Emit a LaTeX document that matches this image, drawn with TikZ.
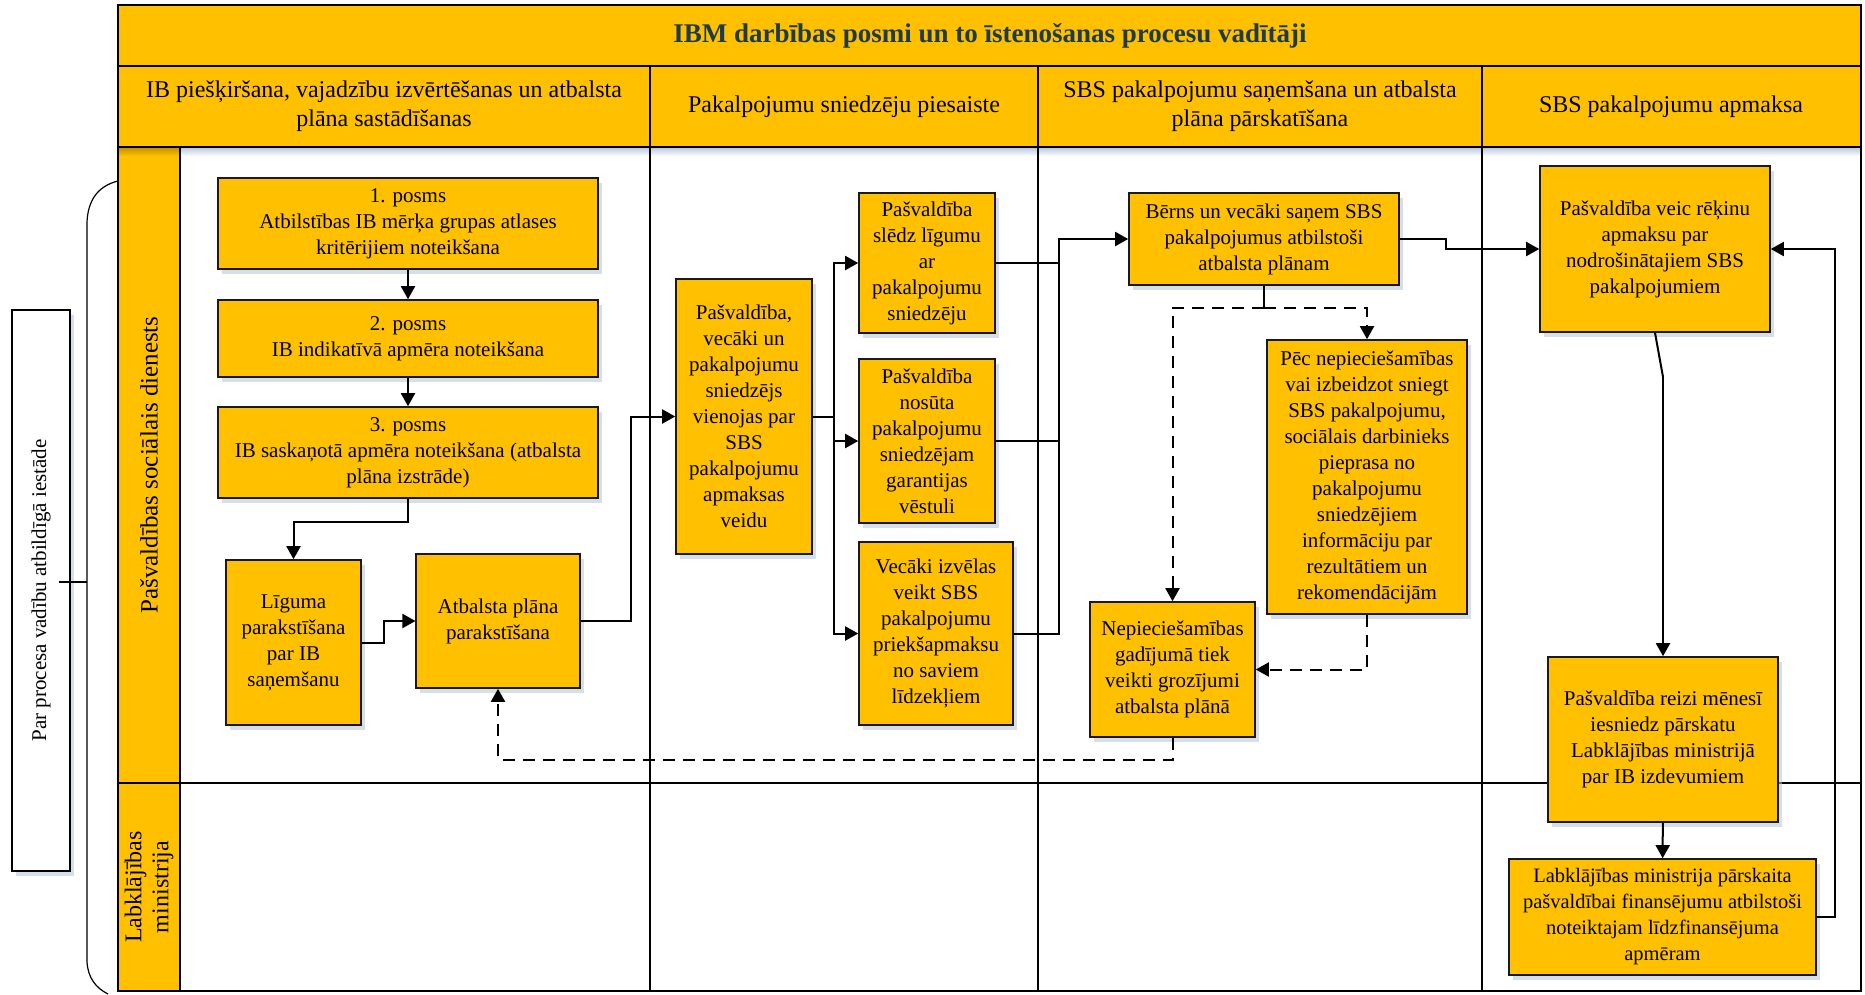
\documentclass[tikz,border=0pt]{standalone}
\usepackage{fontspec}
\setmainfont{Liberation Serif}
\usetikzlibrary{arrows.meta,shadows}
\definecolor{gold}{HTML}{FFC000}
\definecolor{titlec}{HTML}{1F3A48}
\definecolor{shadowc}{HTML}{B4C4DC}
\tikzset{
  box/.style={draw=black!90, line width=1.6pt, fill=gold, align=center, inner sep=0pt,
    font=\fontsize{21}{26}\selectfont,
    drop shadow={shadow xshift=4pt, shadow yshift=-5pt, fill=shadowc, opacity=0.55}},
  conn/.style={line width=2pt, draw=black},
  arr/.style={conn, -{Triangle[length=13pt,width=14pt]}},
  darr/.style={arr, dash pattern=on 12pt off 8pt},
  dline/.style={conn, dash pattern=on 12pt off 8pt},
  hdr/.style={align=center, font=\fontsize{24}{29}\selectfont},
  lanetxt/.style={rotate=90, align=center, font=\fontsize{25}{28}\selectfont},
  frame/.style={line width=2.2pt, draw=black},
  thin/.style={line width=1.1pt, draw=black}
}
\begin{document}
\begin{tikzpicture}[x=1pt,y=-1pt]
\useasboundingbox (0,0) rectangle (1865,994);
\fill[white] (0,0) rectangle (1865,994);
% fills
\fill[gold] (118,5) rectangle (1861,147);
\fill[gold] (118,147) rectangle (180,991);
\shade[top color=shadowc, bottom color=white] (180,147) rectangle (1861,156);
\shade[top color=gold!75!black, bottom color=gold] (118,147) rectangle (180,156);
% grid lines
\draw[frame] (118,66) -- (1861,66);
\draw[frame] (118,147) -- (1861,147);
\draw[frame] (180,147) -- (180,991);
\draw[frame] (118,783) -- (1861,783);
\draw[frame] (650,66) -- (650,147);
\draw[frame] (1038,66) -- (1038,147);
\draw[frame] (1482,66) -- (1482,147);
\draw[thin] (650,147) -- (650,991);
\draw[thin] (1038,147) -- (1038,991);
\draw[thin] (1482,147) -- (1482,991);
\draw[frame] (118,5) rectangle (1861,991);
% titles
\node[font=\fontsize{27}{32}\selectfont\bfseries, text=titlec] (title) at (990,35.5) {IBM darbības posmi un to īstenošanas procesu vadītāji};
\node[hdr] (h1) at (384,106.5) {IB piešķiršana, vajadzību izvērtēšanas un atbalsta\\plāna sastādīšanas};
\node[hdr] (h2) at (844,106.5) {Pakalpojumu sniedzēju piesaiste};
\node[hdr] (h3) at (1260,106.5) {SBS pakalpojumu saņemšana un atbalsta\\plāna pārskatīšana};
\node[hdr] (h4) at (1671,106.5) {SBS pakalpojumu apmaksa};
\node[lanetxt] (lane1) at (149,465) {Pašvaldības sociālais dienests};
\node[lanetxt, font=\fontsize{24}{27}\selectfont] (lane2) at (149,887) {Labklājības\\ministrija};
% left box and bracket
\node[draw=black, line width=1.2pt, fill=white, minimum width=58pt, minimum height=561pt, inner sep=0pt,
  drop shadow={shadow xshift=4pt, shadow yshift=-5pt, fill=shadowc, opacity=0.55}] (parbox) at (41,590.5) {};
\node[rotate=90, font=\fontsize{21}{26}\selectfont] (partxt) at (parbox.center) {Par procesa vadību atbildīgā iestāde};
\draw[line width=1.2pt] (118,181) .. controls (98,186) and (88,200) .. (87,222) -- (87,962) .. controls (88,978) and (96,988) .. (108,994);
\coordinate (brk) at (87,582);
\draw[line width=1.2pt] (brk) -- ++(-28,0);
% boxes
\node[box, minimum width=380pt, minimum height=91pt] (b1) at (408,223.5) {1. posms\\Atbilstības IB mērķa grupas atlases\\kritērijiem noteikšana};
\node[box, minimum width=380pt, minimum height=77pt] (b2) at (408,338.5) {2. posms\\IB indikatīvā apmēra noteikšana};
\node[box, minimum width=380pt, minimum height=91pt] (b3) at (408,452.5) {3. posms\\IB saskaņotā apmēra noteikšana (atbalsta\\plāna izstrāde)};
\node[box, minimum width=135pt, minimum height=165pt] (lig) at (293.5,642.5) {Līguma\\parakstīšana\\par IB\\saņemšanu};
\node[box, minimum width=163.5pt, minimum height=134pt] (atb) at (498,621) {Atbalsta plāna\\parakstīšana};
\node[box, minimum width=136pt, minimum height=275pt] (vien) at (744,416.5) {Pašvaldība,\\vecāki un\\pakalpojumu\\sniedzējs\\vienojas par\\SBS\\pakalpojumu\\apmaksas\\veidu};
\node[box, minimum width=136pt, minimum height=140pt] (ba) at (927,263) {Pašvaldība\\slēdz līgumu\\ar\\pakalpojumu\\sniedzēju};
\node[box, minimum width=136pt, minimum height=164pt] (bb) at (927,441) {Pašvaldība\\nosūta\\pakalpojumu\\sniedzējam\\garantijas\\vēstuli};
\node[box, minimum width=154pt, minimum height=183pt] (bc) at (936,633.5) {Vecāki izvēlas\\veikt SBS\\pakalpojumu\\priekšapmaksu\\no saviem\\līdzekļiem};
\node[box, minimum width=270pt, minimum height=92pt] (bern) at (1264,239) {Bērns un vecāki saņem SBS\\pakalpojumus atbilstoši\\atbalsta plānam};
\node[box, minimum width=200pt, minimum height=274pt] (pec) at (1367,477) {Pēc nepieciešamības\\vai izbeidzot sniegt\\SBS pakalpojumu,\\sociālais darbinieks\\pieprasa no\\pakalpojumu\\sniedzējiem\\informāciju par\\rezultātiem un\\rekomendācijām};
\node[box, minimum width=165pt, minimum height=135pt] (nep) at (1172.5,669.5) {Nepieciešamības\\gadījumā tiek\\veikti grozījumi\\atbalsta plānā};
\node[box, minimum width=230pt, minimum height=166pt] (veic) at (1655,249) {Pašvaldība veic rēķinu\\apmaksu par\\nodrošinātajiem SBS\\pakalpojumiem};
\node[box, minimum width=230pt, minimum height=165pt] (reizi) at (1663,739.5) {Pašvaldība reizi mēnesī\\iesniedz pārskatu\\Labklājības ministrijā\\par IB izdevumiem};
\node[box, minimum width=307pt, minimum height=116pt, font=\fontsize{20.5}{26}\selectfont] (lm) at (1662.5,917) {Labklājības ministrija pārskaita\\pašvaldībai finansējumu atbilstoši\\noteiktajam līdzfinansējuma\\apmēram};
% connectors
\draw[arr] (b1) -- (b2);
\draw[arr] (b2) -- (b3);
\draw[arr] (b3.south) -- ++(0,23) -| (lig.north);
\draw[arr] (lig.east) -- ++(22,0) |- (atb.west);
\draw[arr] (atb.east) -- ++(50,0) |- (vien.west);
\draw[conn] (vien.east) -- ++(21,0) coordinate (vj);
\draw[arr] (vj) |- (ba.west);
\draw[arr] (vj) |- (bb.west);
\draw[arr] (vj) |- (bc.west);
\draw[conn] (ba.east) -- (1059,263);
\draw[conn] (bb.east) -- (1059,441);
\draw[arr] (bc.east) -- (1059,633.5) |- (bern.west);
\draw[arr] (bern.east) -- ++(46,0) |- (veic.west);
\draw[conn] (bern.south) -- ++(0,22) coordinate (bj);
\draw[darr] (bj) -| (pec.north);
\draw[darr] (bj) -| (nep.north);
\draw[darr] (pec.south) |- (nep.east);
\draw[darr] (nep.south) -- ++(0,22) -| (atb.south);
\draw[conn] (veic.south) -- (1663,377) coordinate (vb);
\draw[arr] (vb) -- (reizi.north);
\draw[arr] (reizi) -- (lm);
\draw[arr] (lm.east) -- (1835,917) |- (veic.east);
\end{tikzpicture}
\end{document}
